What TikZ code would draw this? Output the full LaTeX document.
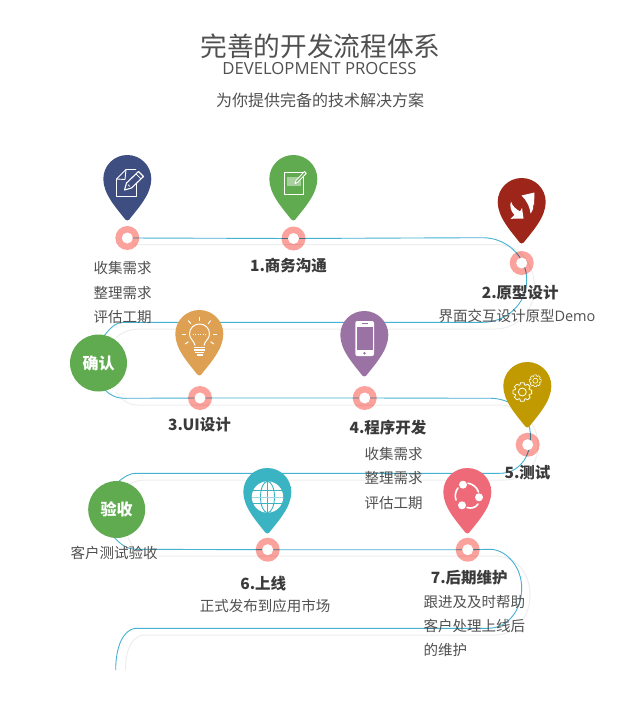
\documentclass[tikz,border=0pt]{standalone}
\usepackage{fontspec}
\setmainfont{Noto Sans CJK SC}
\newfontfamily\latn{Open Sans}
\usetikzlibrary{calc}
\definecolor{trackblue}{HTML}{45B2D3}
\definecolor{trackgray}{HTML}{EEEEEE}
\definecolor{ringpink}{HTML}{FBA29C}
\definecolor{txt}{HTML}{505050}
\definecolor{boldtxt}{HTML}{3A3A3A}
\definecolor{okgreen}{HTML}{60AB50}
\definecolor{HTMLa}{HTML}{3F4E80}
\definecolor{HTMLc}{HTML}{9E2519}
\definecolor{HTMLd}{HTML}{DEA052}
\definecolor{HTMLe}{HTML}{9A72A4}
\definecolor{HTMLf}{HTML}{C09A00}
\definecolor{HTMLg}{HTML}{3AB3C2}
\definecolor{HTMLh}{HTML}{EE6A78}
\newcommand{\PinAt}[3]{%
  \fill[#3,shift={(#1,#2+24)}] (-24,0) .. controls (-24,-13.3) and (-13.3,-24) .. (0,-24)
   .. controls (13.3,-24) and (24,-13.3) .. (24,0)
   .. controls (24,15) and (11,29) .. (2,40.5)
   .. controls (1,41.8) and (-1,41.8) .. (-2,40.5)
   .. controls (-11,29) and (-24,15) .. (-24,0) -- cycle;}
\newcommand{\GearAt}[4]{% x y R linewidth
  \foreach \ga in {0,45,...,315}{
   \draw[white,line width=#4,line join=round] ($(#1,#2)+(\ga-11:#3)$) -- ($(#1,#2)+(\ga+11:#3)$)
     -- ($(#1,#2)+(\ga+19:#3*0.78)$) -- ($(#1,#2)+(\ga+26:#3*0.78)$) -- ($(#1,#2)+(\ga+34:#3)$);}
  \draw[white,line width=#4] (#1,#2) circle[radius=#3*0.42];}
\tikzset{
  trackline/.style={trackblue,line width=0.9},
  backline/.style={trackgray,line width=1},
  ringouter/.style={circle,fill=ringpink,minimum size=24,inner sep=0},
  ringinner/.style={circle,fill=white,minimum size=11,inner sep=0},
  badge/.style={circle,fill=okgreen,minimum size=57,inner sep=0,text=white,font=\fontsize{16}{16}\selectfont\bfseries},
  body/.style={inner sep=0,text=txt,font=\fontsize{14.5}{14.5}\selectfont},
  bodyl/.style={body,anchor=west},
  stepname/.style={inner sep=0,text=boldtxt,font=\fontsize{15.5}{15.5}\selectfont\bfseries},
  icon/.style={white,line width=0.9,line join=round},
}
\begin{document}
\begin{tikzpicture}[x=1pt,y=-1pt]
\useasboundingbox (0,0) rectangle (640,706);
\fill[white] (0,0) rectangle (640,706);
% ring positions
\coordinate (p0) at (127.3,238);
\coordinate (p1) at (293.5,238.5);
\coordinate (p2) at (521.7,263);
\coordinate (p3) at (200,398);
\coordinate (p4) at (364.7,398);
\coordinate (p5) at (527.7,444.7);
\coordinate (p6) at (267.7,549.7);
\coordinate (p7) at (467.7,549.7);
\coordinate (tailb) at (115.7,670);
\coordinate (tailg) at (125.5,670);
% grey track
\draw[backline] (135,244.7) -- (500,244.7) .. controls (520,244.7) and (534.5,266) .. (534.5,287)
  .. controls (534.5,310) and (518,329) .. (495,329) -- (140,329) .. controls (130,329) and (122,332) .. (116,338);
\draw[backline] (116,392) .. controls (122,400) and (128,405) .. (138,405) -- (500,405)
  .. controls (522,405) and (538,425) .. (538,445) .. controls (538,465) and (525,480) .. (505,480) -- (145,480) .. controls (138,480) and (132,482) .. (125,487);
\draw[backline] (128,537) .. controls (134,552) and (140,556) .. (148,556) -- (495,556)
  .. controls (515,556) and (530,572) .. (530,595) .. controls (530,618) and (515,635) .. (495,635) -- (145,635)
  .. controls (133,635) and (125.5,648) .. (tailg);
% blue track
\draw[trackline] (p0) -- (p1) -- (483,237.7) .. controls (506,237.7) and (526.7,256) .. (526.7,280)
  .. controls (526.7,304) and (506,322.3) .. (483,322.3) -- (123,322.3) .. controls (116,322.3) and (110,328) .. (104,336);
\draw[trackline] (105,390) .. controls (110,395) and (116,398.3) .. (125,398.3) -- (p3) -- (p4) -- (493,398.3)
  .. controls (515,400) and (530.5,415) .. (530.5,437) .. controls (530.5,458) and (518,473.3) .. (500,473.3)
  -- (135,473.3) .. controls (130,473.3) and (124,477) .. (118,482);
\draw[trackline] (114,537) .. controls (120,544) and (127,549.3) .. (136,549.3) -- (p6) -- (p7) -- (491.7,549.3)
  .. controls (508,551) and (521.7,568) .. (521.7,588) .. controls (521.7,610) and (508,628.3) .. (488,628.3)
  -- (135,628.3) .. controls (124,630) and (115.7,645) .. (tailb);
% rings
\begin{scope}[blend mode=multiply]
\foreach \n in {0,...,7}{\node[ringouter] (ro\n) at (p\n) {};}
\end{scope}
\foreach \n in {0,...,7}{\node[ringinner] (ri\n) at (p\n) {};}
% pins
\PinAt{127.3}{155}{HTMLa}
\PinAt{293.3}{155}{okgreen}
\PinAt{521.7}{178}{HTMLc}
\PinAt{199.3}{310}{HTMLd}
\PinAt{364.3}{311}{HTMLe}
\PinAt{527.3}{362}{HTMLf}
\PinAt{267.3}{468}{HTMLg}
\PinAt{467.3}{468}{HTMLh}
% icon 0: document and pencil
\draw[icon] (125,196.5) -- (116.5,196.5) -- (116.5,179) -- (126,169.5) -- (136,169.5);
\draw[icon] (136.7,180) -- (136.7,196.5) -- (125,196.5);
\draw[icon] (116.5,179) -- (125,179.5) -- (126,169.5);
\draw[icon,fill=HTMLa,line width=1.1] (124.5,190) -- (126.5,183) -- (138.5,171.5) -- (143.5,176.5) -- (131.5,188) -- cycle;
\draw[icon,line width=0.7] (128,184.5) -- (129.8,186.5) (136,173.8) -- (141,178.8);
% icon 1: sheet and pencil
\draw[icon] (284.3,172.7) rectangle (303.3,194.3);
\fill[white,opacity=.45] (286.5,176.5) rectangle (301,185.5);
\draw[icon,fill=okgreen] (295,183.5) -- (296,180.5) -- (304.5,171.5) -- (306.3,173.3) -- (297.5,182.3) -- cycle;
% icon 2: two arrows
\fill[white] (521.5,195.5) -- (534.5,192.5) -- (534,205.5) -- (532.5,202.5) .. controls (534,206) and (533.5,210) .. (530.5,213.5)
  .. controls (530,208) and (528,204) .. (525,199.5) -- cycle;
\fill[white] (523.5,218.5) -- (510.5,218.8) -- (514.5,215) .. controls (510.5,211) and (509.5,206) .. (511,201.5)
  .. controls (512.5,206.5) and (516,209) .. (520,211.5) -- (522,208) -- cycle;
% icon 3: bulb
\draw[white,line width=1] (195,345.5) .. controls (194.5,341) and (189.5,339) .. (189.5,334)
  .. controls (189.5,328) and (194,324) .. (199.5,324) .. controls (205,324) and (209.5,328) .. (209.5,334)
  .. controls (209.5,339) and (204.5,341) .. (204,345.5);
\foreach \yy/\hw in {347.3/5.5,349.8/5.5,352.3/4.5,354.8/3}{\fill[white] (199.5-\hw,\yy-0.8) rectangle (199.5+\hw,\yy+0.8);}
\draw[white,line width=0.5,dotted] (192.5,334.5) -- (206.5,334.5);
\foreach \aa in {-90,-130,-50,180,0,145,35}{\draw[white,line width=1] ($(199.5,334)+(\aa:13.5)$) -- ($(199.5,334)+(\aa:17.5)$);}
% icon 4: phone
\fill[white,rounded corners=2] (355.3,321) rectangle (374,356);
\fill[HTMLe] (357,326.7) rectangle (372.7,350);
\fill[HTMLe] (364.5,353.2) circle[radius=1.4];
\draw[HTMLe,line width=0.7] (361.5,323.8) -- (367.5,323.8);
% icon 5: gears
\GearAt{522.3}{392}{9.5}{0.8}
\GearAt{535.3}{380.7}{6}{0.6}
% icon 6: globe
\fill[white] (267.5,497) circle[radius=15.7];
\draw[HTMLg,line width=0.9] (267.5,481.3) -- (267.5,512.7) (267.5,497) ellipse[x radius=7,y radius=15.7];
\draw[HTMLg,line width=0.9] (253,490.5) -- (282,490.5) (252,503.5) -- (283,503.5);
\draw[HTMLg!50,line width=0.9] (252,497) -- (283,497);
% icon 7: share
\foreach \xx/\yy in {463/484.7,479/497.3,462/505.3}{\fill[white] (\xx,\yy) circle[radius=4];}
\draw[white,line width=1.6,line cap=round] (468,483.2) .. controls (473,484) and (477,487.5) .. (478.5,492);
\draw[white,line width=1.6,line cap=round] (458,488) .. controls (455.5,491) and (454.5,496) .. (456,500);
\draw[white,line width=1.6,line cap=round] (467,507.5) .. controls (471,509) and (476,507.5) .. (478,504);
% badges
\node[badge] (confirm) at (98.5,363) {确认};
\node[badge] (accept) at (116.7,509.5) {验收};
% titles
\node[inner sep=0,text=txt,font=\fontsize{26.7}{26.7}\selectfont] (title) at (320.5,46) {完善的开发流程体系};
\node[inner sep=0,text=txt,font=\latn\fontsize{16.7}{17}\selectfont] (sub) at (319.5,69) {DEVELOPMENT PROCESS};
\node[inner sep=0,text=txt,font=\fontsize{16}{16}\selectfont] (tag) at (320,100) {为你提供完备的技术解决方案};
% labels
\node[bodyl] (a1) at (93.3,268) {收集需求};
\node[bodyl] (a2) at (93.3,292.7) {整理需求};
\node[bodyl] (a3) at (93.3,316.7) {评估工期};
\node[stepname] (s1) at (288.5,265.5) {1.商务沟通};
\node[stepname] (s2) at (520.3,292.7) {2.原型设计};
\node[body] (d2) at (517,316) {界面交互设计原型{\latn Demo}};
\node[stepname] (s3) at (199.5,425) {3.UI设计};
\node[stepname] (s4) at (388,428) {4.程序开发};
\node[bodyl] (b1) at (364.3,454) {收集需求};
\node[bodyl] (b2) at (364.3,477.7) {整理需求};
\node[bodyl] (b3) at (364.3,502.7) {评估工期};
\node[stepname] (s5) at (527.5,473) {5.测试};
\node[body] (d5) at (114,553) {客户测试验收};
\node[stepname] (s6) at (263.3,584) {6.上线};
\node[body] (d6) at (265,606) {正式发布到应用市场};
\node[stepname] (s7) at (469.3,578) {7.后期维护};
\node[bodyl] (c1) at (423.3,602.3) {跟进及及时帮助};
\node[bodyl] (c2) at (423.3,626) {客户处理上线后};
\node[bodyl] (c3) at (423.3,650) {的维护};
\end{tikzpicture}
\end{document}
